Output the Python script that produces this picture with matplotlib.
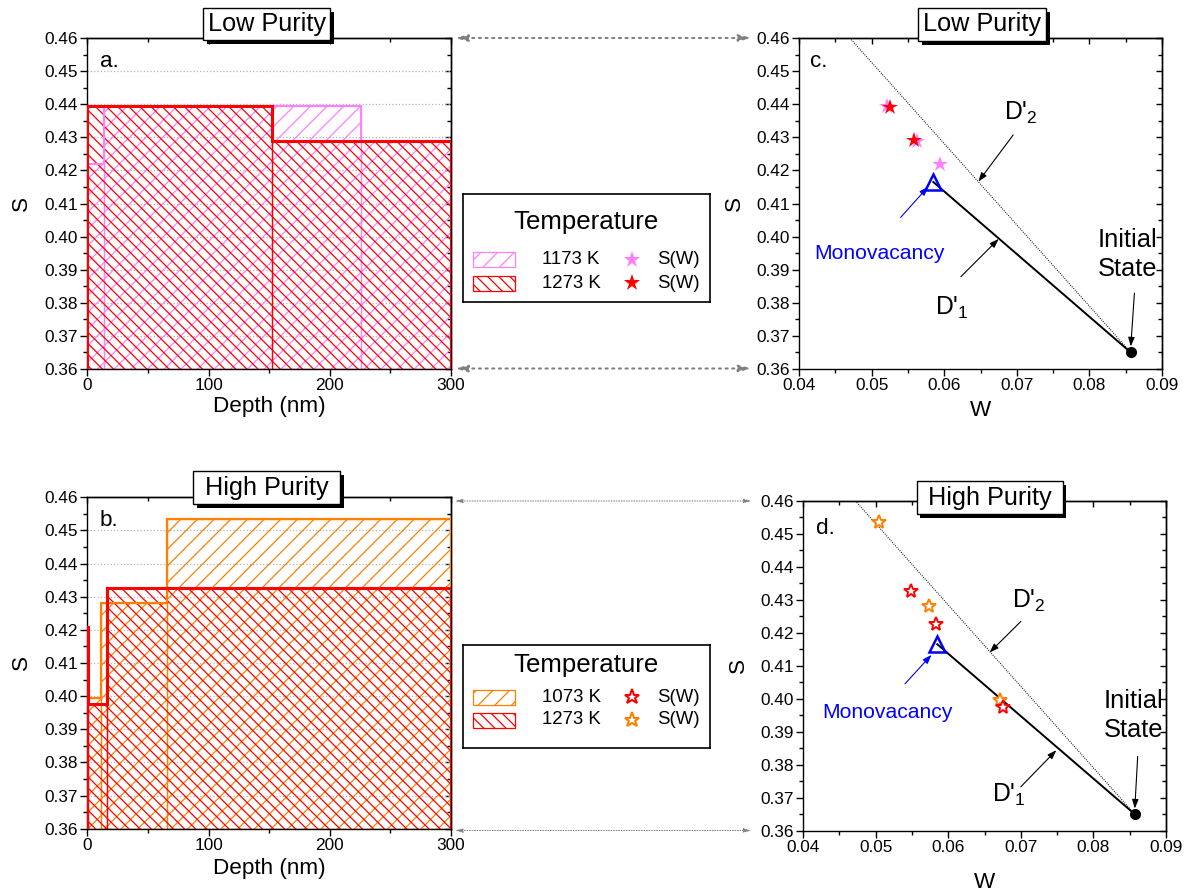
import numpy as np
import matplotlib
matplotlib.use("Agg")
import matplotlib.pyplot as plt
from matplotlib.patches import Rectangle, FancyArrowPatch
from matplotlib.ticker import MultipleLocator

plt.rcParams["font.family"] = ["Liberation Sans", "DejaVu Sans"]
plt.rcParams["mathtext.fontset"] = "custom"
plt.rcParams["mathtext.rm"] = "Liberation Sans"
plt.rcParams["mathtext.it"] = "Liberation Sans:italic"
plt.rcParams["hatch.linewidth"] = 0.45
plt.rcParams["axes.linewidth"] = 0.5

# ------------------------------------------------------------
# data
# ------------------------------------------------------------
# panel a: low purity depth profiles (layer edges in nm, S per layer)
LP_1173_EDGES = [0, 14, 226, 300]
LP_1173_S = [0.422, 0.4395, 0.429]
LP_1273_EDGES = [0, 152, 300]
LP_1273_S = [0.4395, 0.429]

# panel b: high purity depth profiles
HP_1073_EDGES = [0, 11, 66, 300]
HP_1073_S = [0.3995, 0.428, 0.4535]
HP_1273_EDGES = [0, 0.8, 16, 300]
HP_1273_S = [0.421, 0.3975, 0.4325]

# panel c: S(W) points, low purity
LP_1173_W_PTS = [0.0521, 0.0562, 0.0594]
LP_1173_S_PTS = [0.4395, 0.4290, 0.4220]
LP_1273_W_PTS = [0.0526, 0.0559]
LP_1273_S_PTS = [0.4393, 0.4291]

# panel d: S(W) points, high purity
HP_1073_W_PTS = [0.0504, 0.0574, 0.0671]
HP_1073_S_PTS = [0.4536, 0.4282, 0.3996]
HP_1273_W_PTS = [0.0549, 0.0583, 0.0676]
HP_1273_S_PTS = [0.4327, 0.4226, 0.3976]

# reference states
MONO_W, MONO_S = 0.0585, 0.4165
INIT_W, INIT_S = 0.0857, 0.3650
D2_TOP_W = {"c": 0.0470, "d": 0.0472}
D2_TOP_S = 0.46

PINK = "#ff80ff"
RED = "#ff0000"
ORANGE = "#ff8000"
BLUE = "#0000ff"
GRAYARR = "#808080"

HATCH_FWD = "////"
HATCH_BACK = "\\" * 6

W_PX, H_PX = 1194, 894
DPI = 200


def ax_rect(l, t, r, b):
    return [l / W_PX, 1 - b / H_PX, (r - l) / W_PX, (b - t) / H_PX]


def fpt(x, y):
    return (x / W_PX, 1 - y / H_PX)


fig = plt.figure(figsize=(W_PX / DPI, H_PX / DPI), dpi=DPI)

ax_a = fig.add_axes(ax_rect(87.3, 38, 451, 369))
ax_b = fig.add_axes(ax_rect(87.3, 497.3, 451, 828.7))
ax_c = fig.add_axes(ax_rect(799, 38, 1162, 369))
ax_d = fig.add_axes(ax_rect(803, 500.7, 1166, 830.7))


def style_axes(ax, xmaj, xmin, xlim):
    ax.set_xlim(*xlim)
    ax.set_ylim(0.36, 0.46)
    ax.xaxis.set_major_locator(MultipleLocator(xmaj))
    ax.xaxis.set_minor_locator(MultipleLocator(xmin))
    ax.yaxis.set_major_locator(MultipleLocator(0.01))
    ax.yaxis.set_minor_locator(MultipleLocator(0.005))
    ax.tick_params(which="both", direction="out", labelsize=6.2, pad=0.8, width=0.5)
    ax.tick_params(which="major", length=2.5)
    ax.tick_params(which="minor", length=1.4)
    ax.yaxis.set_major_formatter(plt.FormatStrFormatter("%.2f"))
    # mirrored inward ticks on top / right
    top = ax.secondary_xaxis("top")
    top.xaxis.set_major_locator(MultipleLocator(xmaj))
    top.xaxis.set_minor_locator(MultipleLocator(xmin))
    top.tick_params(which="both", direction="in", labeltop=False, width=0.5)
    top.tick_params(which="major", length=2.2)
    top.tick_params(which="minor", length=1.3)
    right = ax.secondary_yaxis("right")
    right.yaxis.set_major_locator(MultipleLocator(0.01))
    right.yaxis.set_minor_locator(MultipleLocator(0.005))
    right.tick_params(which="both", direction="in", labelright=False, width=0.5)
    right.tick_params(which="major", length=2.2)
    right.tick_params(which="minor", length=1.3)
    for sp in list(top.spines.values()) + list(right.spines.values()):
        sp.set_linewidth(0.5)


def profile(ax, edges, vals, color, hatch, step_lw):
    edges = np.asarray(edges, dtype=float)
    vals = np.asarray(vals, dtype=float)
    ax.bar(edges[:-1], vals - 0.36, width=np.diff(edges), bottom=0.36, align="edge",
           fill=False, hatch=hatch, edgecolor=color, linewidth=0.45, zorder=2)
    ax.stairs(vals, edges, baseline=0.36, color=color, linewidth=step_lw, zorder=3)


# ---------------- panel a ----------------
style_axes(ax_a, 100, 50, (0, 300))
ax_a.grid(axis="y", which="major", linestyle=":", color="#b4b4b4", linewidth=0.45)
ax_a.set_axisbelow(True)
profile(ax_a, LP_1173_EDGES, LP_1173_S, PINK, HATCH_FWD, 0.75)
profile(ax_a, LP_1273_EDGES, LP_1273_S, RED, HATCH_BACK, 1.1)
ax_a.text(0.035, 0.928, "a.", transform=ax_a.transAxes, fontsize=8.1, va="center")
ax_a.set_xlabel("Depth (nm)", fontsize=8.1, labelpad=1.0)
ax_a.set_ylabel("S", fontsize=8.1, labelpad=4.5)

# ---------------- panel b ----------------
style_axes(ax_b, 100, 50, (0, 300))
ax_b.grid(axis="y", which="major", linestyle=":", color="#b4b4b4", linewidth=0.45)
ax_b.set_axisbelow(True)
profile(ax_b, HP_1073_EDGES, HP_1073_S, ORANGE, HATCH_FWD, 0.8)
profile(ax_b, HP_1273_EDGES, HP_1273_S, RED, HATCH_BACK, 1.1)
ax_b.text(0.035, 0.931, "b.", transform=ax_b.transAxes, fontsize=8.1, va="center")
ax_b.set_xlabel("Depth (nm)", fontsize=8.1, labelpad=2.0)
ax_b.set_ylabel("S", fontsize=8.1, labelpad=4.5)


# ---------------- panels c, d ----------------
def arrow(ax, tail, tip, color="k"):
    ax.annotate("", xy=tip, xytext=tail,
                arrowprops=dict(arrowstyle="-|>,head_length=0.45,head_width=0.16",
                                color=color, lw=0.4, shrinkA=0, shrinkB=0,
                                mutation_scale=6))


def sw_panel(ax, key, label, lab_xy, d2_xy, d2_arrow, d1_xy, d1_arrow,
             mono_xy, mono_arrow, init_xy, init_arrow):
    style_axes(ax, 0.01, 0.005, (0.04, 0.09))
    ax.xaxis.set_major_formatter(plt.FormatStrFormatter("%.2f"))
    ax.plot([D2_TOP_W[key], INIT_W], [D2_TOP_S, INIT_S], color="k", lw=0.4,
            linestyle=(0, (0.8, 1.2)), zorder=2, clip_on=True)
    ax.plot([MONO_W, INIT_W], [MONO_S, INIT_S], color="k", lw=0.7, zorder=2)
    ax.plot([INIT_W], [INIT_S], "o", color="k", ms=3, zorder=4)
    ax.plot([MONO_W], [MONO_S], "^", mfc="none", mec=BLUE, ms=5.8, mew=0.9, zorder=4)
    ax.text(*lab_xy, label, fontsize=8.1, va="center")
    ax.text(*d2_xy, "D'$_2$", fontsize=8.9, va="center")
    ax.text(*d1_xy, "D'$_1$", fontsize=8.9, va="center")
    ax.text(*mono_xy, "Monovacancy", fontsize=7.6, color=BLUE, va="center")
    ax.text(*init_xy, "Initial\nState", fontsize=9.2, va="center", linespacing=1.25)
    arrow(ax, *d2_arrow)
    arrow(ax, *d1_arrow)
    arrow(ax, *mono_arrow, color=BLUE)
    arrow(ax, *init_arrow)
    ax.set_xlabel("W", fontsize=8.1)
    ax.set_ylabel("S", fontsize=8.1, labelpad=4.0)


sw_panel(ax_c, "c", "c.", (0.0415, 0.4528),
         (0.0682, 0.4373), ((0.0695, 0.4307), (0.0647, 0.4166)),
         (0.0587, 0.3784), ((0.0623, 0.3879), (0.0675, 0.3993)),
         (0.0421, 0.3950), ((0.0540, 0.4058), (0.0578, 0.4151)),
         (0.0812, 0.3945), ((0.0862, 0.3829), (0.0857, 0.3668)))
ax_c.plot(LP_1173_W_PTS, LP_1173_S_PTS, "*", color=PINK, ms=5.8, mew=0, zorder=5)
ax_c.plot(LP_1273_W_PTS, LP_1273_S_PTS, "*", color=RED, ms=5.8, mew=0, zorder=6)
ax_c.xaxis.labelpad = 2.5

sw_panel(ax_d, "d", "d.", (0.0418, 0.4517),
         (0.0688, 0.4297), ((0.0700, 0.4234), (0.0657, 0.4140)),
         (0.0660, 0.3708), ((0.0700, 0.3733), (0.0749, 0.3844)),
         (0.0427, 0.3958), ((0.05405, 0.4045), (0.0577, 0.4133)),
         (0.0814, 0.3949), ((0.0861, 0.3825), (0.0857, 0.3667)))
ax_d.plot(HP_1073_W_PTS, HP_1073_S_PTS, "*", mfc="white", mec=ORANGE, ms=5.2, mew=0.7, zorder=5)
ax_d.plot(HP_1273_W_PTS, HP_1273_S_PTS, "*", mfc="white", mec=RED, ms=5.2, mew=0.7, zorder=5)
ax_d.xaxis.labelpad = 6


# ---------------- title boxes with shadow ----------------
def title_box(l, t, r, b, text):
    dx, dy = 3.5 / W_PX, 4.0 / H_PX
    x0, y0 = l / W_PX, 1 - b / H_PX
    w, h = (r - l) / W_PX, (b - t) / H_PX
    fig.add_artist(Rectangle((x0 + dx, y0 - dy), w, h, transform=fig.transFigure,
                             facecolor="black", edgecolor="black", lw=0, zorder=20))
    fig.add_artist(Rectangle((x0, y0), w, h, transform=fig.transFigure,
                             facecolor="white", edgecolor="black", lw=0.5, zorder=21))
    fig.text(x0 + w / 2, y0 + h / 2, text, ha="center", va="center",
             fontsize=9.1, zorder=22)


title_box(203.3, 8.3, 330, 40, "Low Purity")
title_box(918.3, 7.5, 1046, 40.5, "Low Purity")
title_box(193.3, 471, 340, 504.3, "High Purity")
title_box(916.7, 481, 1062.7, 514.3, "High Purity")


# ---------------- legends ----------------
def legend_box(l, t, r, b, title_y, row_y, patches, temps, star_colors, filled):
    lax = fig.add_axes(ax_rect(l, t, r, b))
    w, h = r - l, b - t
    lax.set_xlim(0, w)
    lax.set_ylim(h, 0)
    lax.set_xticks([])
    lax.set_yticks([])
    for sp in lax.spines.values():
        sp.set_linewidth(0.6)
    lax.text(w / 2, title_y, "Temperature", ha="center", va="center", fontsize=9.3)
    for y, (pc, ph), temp, sc in zip(row_y, patches, temps, star_colors):
        lax.add_patch(Rectangle((10, y - 7.5), 42, 15, fill=False, hatch=ph,
                                edgecolor=pc, lw=0.45))
        lax.text(79, y, temp, va="center", fontsize=6.7)
        if filled:
            lax.plot([169], [y], "*", color=sc, ms=6.2, mew=0)
        else:
            lax.plot([169], [y], "*", mfc="white", mec=sc, ms=5.6, mew=0.75)
        lax.text(194, y, "S(W)", va="center", fontsize=6.7)


legend_box(463, 194, 710, 302, 27.5, [65.5, 89],
           [(PINK, HATCH_FWD), (RED, HATCH_BACK)], ["1173 K", "1273 K"], [PINK, RED], True)
legend_box(463, 645, 710, 748, 20, [52, 75],
           [(ORANGE, HATCH_FWD), (RED, HATCH_BACK)], ["1073 K", "1273 K"], [RED, ORANGE], False)


# ---------------- connector arrows ----------------
def connector(y, lw, hl, hw, ls):
    fig.add_artist(FancyArrowPatch(fpt(455, y), fpt(751.5, y), transform=fig.transFigure,
                                   arrowstyle=f"<|-|>,head_length={hl},head_width={hw}",
                                   mutation_scale=1, color=GRAYARR, lw=lw,
                                   linestyle=ls, shrinkA=0, shrinkB=0, zorder=30))


connector(38, 0.75, 3.6, 1.0, (0, (1, 2.2)))
connector(368.5, 0.75, 3.6, 1.0, (0, (1, 2.2)))
connector(501, 0.35, 2.2, 0.6, (0, (1, 1.6)))
connector(830.5, 0.35, 2.2, 0.6, (0, (1, 1.6)))

fig.savefig("out.png", dpi=DPI)
